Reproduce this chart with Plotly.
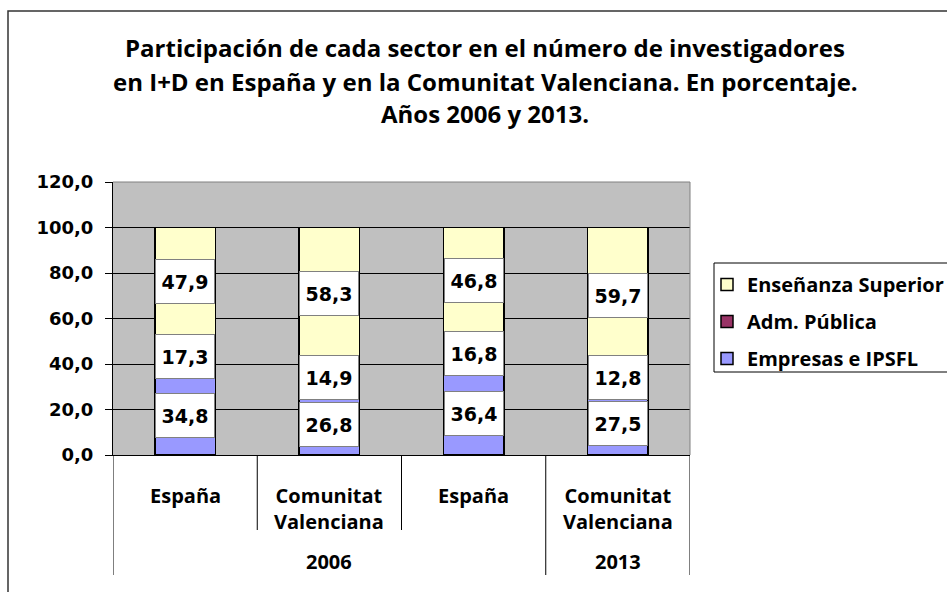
import plotly.graph_objects as go

# ---- data ----
categories = ["España", "Comunitat<br>Valenciana", "España", "Comunitat<br>Valenciana"]
years = ["2006", "2013"]
empresas = [34.8, 26.8, 36.4, 27.5]
adm_publica = [17.3, 14.9, 16.8, 12.8]
ensenanza = [47.9, 58.3, 46.8, 59.7]
series_names = ["Empresas e IPSFL", "Adm. Pública", "Enseñanza Superior"]
y_ticks = [0, 20, 40, 60, 80, 100, 120]

W, H = 947, 592
L, R, T, B = 113, 690, 182, 455


def px_x(p):
    return (p - L) / (R - L)


def px_y(p):
    return (B - p) / (B - T)


colors = ["#9999FF", "#993366", "#FFFFCC"]
series = [empresas, adm_publica, ensenanza]
xs = list(range(len(categories)))

fig = go.Figure()
for i, (name, vals) in enumerate(zip(series_names, series)):
    fig.add_trace(go.Bar(
        x=xs, y=vals, name=name, width=0.42,
        marker=dict(color=colors[i], line=dict(color="black", width=1.5)),
        legendgroup=name, legendrank=10 - i,
    ))

sans = "Open Sans"
annotations = []
# data labels
base = [0.0] * len(xs)
for vals in series:
    for j, v in enumerate(vals):
        annotations.append(dict(
            x=xs[j], y=base[j] + v / 2, xref="x", yref="y",
            text=f"{v:.1f}".replace(".", ","), showarrow=False,
            font=dict(family="DejaVu Sans", size=19, color="black", weight="bold"),
            bgcolor="white", bordercolor="#808080", borderwidth=1,
            width=56, height=41,
        ))
        base[j] += v

# category labels
for j, c in enumerate(categories):
    annotations.append(dict(
        x=xs[j], y=px_y(480), xref="x", yref="paper", yanchor="top",
        text=c, showarrow=False,
        font=dict(family=sans, size=20, color="black", weight="bold"),
    ))
# year labels (as in the original grouping)
for xv, yr in [(1.0, years[0]), (3.0, years[1])]:
    annotations.append(dict(x=xv, y=px_y(561), xref="x", yref="paper", yanchor="middle",
                            text=yr, showarrow=False,
                            font=dict(family=sans, size=20, color="black", weight="bold")))

# title lines
title_lines = [
    "Participación de cada sector en el número de investigadores",
    "en I+D en España y en la Comunitat Valenciana. En porcentaje.",
    "Años 2006 y 2013.",
]
for line, yp in zip(title_lines, [47, 81, 113]):
    annotations.append(dict(
        x=px_x(485), y=px_y(yp), xref="paper", yref="paper", yanchor="middle",
        text=line, showarrow=False,
        font=dict(family=sans, size=24, color="black", weight="bold"),
    ))

shapes = []
# inner category separators
for xv in [0.5, 1.5]:
    shapes.append(dict(type="line", xref="x", yref="paper", x0=xv, x1=xv,
                       y0=0, y1=px_y(530), line=dict(color="black", width=1)))
# year separators
for xv in [-0.5, 2.5, 3.5]:
    shapes.append(dict(type="line", xref="x", yref="paper", x0=xv, x1=xv,
                       y0=0, y1=px_y(575), line=dict(color="black", width=1)))
# plot area border (top/right)
shapes.append(dict(type="line", xref="paper", yref="paper", x0=0, x1=1, y0=1, y1=1,
                   line=dict(color="#808080", width=1)))
shapes.append(dict(type="line", xref="paper", yref="paper", x0=1, x1=1, y0=0, y1=1,
                   line=dict(color="#808080", width=1)))
# legend box
shapes.append(dict(type="rect", xref="paper", yref="paper",
                   x0=px_x(714), x1=px_x(960), y0=px_y(372), y1=px_y(263),
                   line=dict(color="black", width=1)))
# outer chart frame
shapes.append(dict(type="rect", xref="paper", yref="paper",
                   x0=px_x(8), x1=px_x(1000), y0=px_y(700), y1=px_y(11),
                   line=dict(color="#333333", width=1.5)))

fig.update_layout(
    width=W, height=H,
    margin=dict(l=L, r=W - R, t=T, b=H - B, pad=0, autoexpand=False),
    barmode="stack",
    paper_bgcolor="white",
    plot_bgcolor="#C0C0C0",
    separators=",.",
    showlegend=True,
    legend=dict(
        x=px_x(707), y=px_y(265), xanchor="left", yanchor="top",
        traceorder="grouped", tracegroupgap=8,
        font=dict(family=sans, size=20, color="black", weight="bold"),
        bgcolor="rgba(0,0,0,0)", itemclick=False,
    ),
    xaxis=dict(
        range=[-0.5, 3.5], tickvals=xs, ticktext=[""] * len(xs),
        showgrid=False, showline=True, linecolor="black", linewidth=1,
        ticks="", zeroline=False, fixedrange=True,
    ),
    yaxis=dict(
        range=[0, 120], tickvals=y_ticks, tickformat=".1f",
        showgrid=True, gridcolor="#000000", gridwidth=1,
        showline=True, linecolor="black", linewidth=1,
        ticks="outside", ticklen=7, tickcolor="black", ticklabelstandoff=8,
        tickfont=dict(family="DejaVu Sans", size=18, color="black", weight="bold"),
        zeroline=True, zerolinecolor="black", zerolinewidth=1,
    ),
    annotations=annotations,
    shapes=shapes,
)

fig.write_html("out.html", config={"displayModeBar": False},
               post_script="document.body.style.margin='0';")
